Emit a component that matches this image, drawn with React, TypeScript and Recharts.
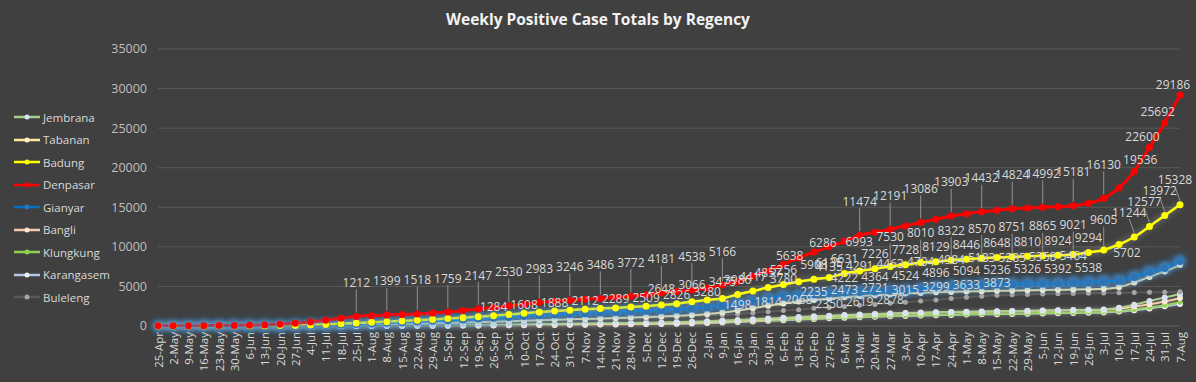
import React from 'react'
import { LineChart, Line, XAxis, YAxis, CartesianGrid, LabelList } from 'recharts'

const weeks = [
  '25-Apr', '2-May', '9-May', '16-May', '23-May', '30-May', '6-Jun', '13-Jun', '20-Jun', '27-Jun',
  '4-Jul', '11-Jul', '18-Jul', '25-Jul', '1-Aug', '8-Aug', '15-Aug', '22-Aug', '29-Aug', '5-Sep',
  '12-Sep', '19-Sep', '26-Sep', '3-Oct', '10-Oct', '17-Oct', '24-Oct', '31-Oct', '7-Nov', '14-Nov',
  '21-Nov', '28-Nov', '5-Dec', '12-Dec', '19-Dec', '26-Dec', '2-Jan', '9-Jan', '16-Jan', '23-Jan',
  '30-Jan', '6-Feb', '13-Feb', '20-Feb', '27-Feb', '6-Mar', '13-Mar', '20-Mar', '27-Mar', '3-Apr',
  '10-Apr', '17-Apr', '24-Apr', '1-May', '8-May', '15-May', '22-May', '29-May', '5-Jun', '12-Jun',
  '19-Jun', '26-Jun', '3-Jul', '10-Jul', '17-Jul', '24-Jul', '31-Jul', '7-Aug',
]

const denpasar = [
  22, 31, 38, 47, 58, 70, 96, 135, 210, 340,
  520, 740, 980, 1212, 1310, 1399, 1460, 1518, 1630, 1759,
  1950, 2147, 2340, 2530, 2760, 2983, 3120, 3246, 3370, 3486,
  3620, 3772, 3960, 4181, 4360, 4538, 4810, 5166, 5638, 6286,
  6993, 7800, 8600, 9350, 10000, 10700, 11474, 11850, 12191, 12650,
  13086, 13500, 13903, 14180, 14432, 14640, 14824, 14910, 14992, 15080,
  15181, 15500, 16130, 17450, 19536, 22600, 25692, 29186,
]

const badung = [
  8, 10, 12, 14, 16, 19, 24, 32, 48, 75,
  120, 190, 280, 370, 460, 550, 640, 730, 830, 940,
  1050, 1165, 1284, 1440, 1608, 1750, 1888, 2000, 2112, 2200,
  2289, 2400, 2509, 2648, 2826, 3066, 3280, 3475, 3986, 4417,
  4857, 5256, 5600, 5908, 6135, 6631, 6950, 7226, 7530, 7728,
  8010, 8129, 8322, 8446, 8570, 8648, 8751, 8810, 8865, 8924,
  9021, 9294, 9605, 10300, 11244, 12577, 13972, 15328,
]

const gianyar = [
  10, 12, 15, 18, 20, 22, 25, 30, 40, 60,
  90, 140, 190, 250, 320, 400, 480, 560, 650, 740,
  830, 940, 1050, 1150, 1250, 1350, 1440, 1530, 1610, 1690,
  1770, 1840, 1920, 2000, 2100, 2220, 2380, 2560, 2800, 3150,
  3450, 3780, 3900, 4020, 4135, 4222, 4291, 4364, 4463, 4524,
  4704, 4896, 4984, 5094, 5183, 5236, 5285, 5326, 5358, 5392,
  5464, 5538, 5620, 5702, 6190, 6820, 7320, 8200,
]

const tabanan = [
  5, 6, 7, 8, 10, 12, 15, 20, 28, 40,
  60, 85, 110, 140, 175, 210, 250, 290, 330, 380,
  430, 480, 540, 600, 660, 720, 780, 840, 900, 960,
  1020, 1080, 1140, 1210, 1290, 1380, 1520, 1700, 1950, 2250,
  2550, 2850, 3100, 3300, 3480, 3640, 3780, 3900, 4010, 4100,
  4180, 4250, 4310, 4360, 4400, 4440, 4480, 4510, 4540, 4570,
  4600, 4640, 4700, 4900, 5500, 6200, 6900, 7700,
]

const buleleng = [
  3, 4, 5, 6, 8, 10, 12, 15, 20, 28,
  40, 55, 75, 100, 130, 160, 195, 230, 270, 310,
  350, 390, 430, 470, 520, 570, 620, 670, 720, 780,
  840, 900, 960, 1040, 1130, 1220, 1320, 1400, 1498, 1650,
  1814, 1950, 2068, 2235, 2350, 2473, 2619, 2721, 2878, 3015,
  3160, 3299, 3470, 3633, 3760, 3873, 3940, 3990, 4030, 4070,
  4100, 4130, 4160, 4190, 4220, 4250, 4280, 4320,
]

const jembrana = [
  0, 0, 0, 1, 1, 2, 2, 3, 4, 5,
  7, 10, 14, 20, 28, 38, 50, 65, 80, 100,
  120, 140, 165, 190, 215, 240, 265, 290, 315, 340,
  365, 390, 420, 450, 490, 540, 600, 680, 770, 860,
  950, 1040, 1130, 1220, 1300, 1380, 1450, 1520, 1580, 1640,
  1690, 1730, 1770, 1800, 1830, 1860, 1890, 1920, 1950, 1980,
  2010, 2050, 2100, 2300, 2700, 3150, 3600, 4050,
]

const bangli = [
  0, 0, 0, 0, 1, 1, 2, 2, 3, 4,
  5, 7, 10, 14, 18, 24, 30, 38, 46, 55,
  65, 78, 92, 108, 125, 145, 165, 185, 205, 225,
  245, 265, 290, 320, 360, 410, 480, 560, 650, 750,
  850, 950, 1050, 1150, 1240, 1320, 1400, 1470, 1540, 1600,
  1650, 1700, 1740, 1780, 1810, 1840, 1870, 1900, 1930, 1960,
  1990, 2020, 2060, 2200, 2450, 2750, 3100, 3550,
]

const klungkung = [
  0, 0, 1, 1, 2, 2, 3, 3, 4, 5,
  6, 8, 11, 15, 20, 26, 33, 41, 50, 60,
  72, 85, 100, 116, 133, 150, 168, 186, 205, 224,
  243, 262, 282, 305, 335, 375, 425, 490, 560, 640,
  720, 800, 880, 950, 1020, 1090, 1150, 1210, 1270, 1320,
  1370, 1410, 1450, 1490, 1520, 1550, 1580, 1610, 1640, 1670,
  1700, 1730, 1770, 1880, 2080, 2330, 2620, 3000,
]

const karangasem = [
  0, 0, 0, 0, 1, 1, 1, 2, 2, 3,
  4, 5, 7, 10, 13, 17, 22, 28, 35, 43,
  52, 62, 73, 85, 98, 112, 127, 143, 160, 178,
  197, 217, 238, 262, 290, 325, 370, 430, 500, 580,
  660, 740, 820, 900, 970, 1040, 1100, 1160, 1220, 1270,
  1320, 1360, 1400, 1440, 1470, 1500, 1530, 1560, 1590, 1620,
  1650, 1680, 1720, 1820, 2000, 2220, 2480, 2780,
]

const yTicks = [0, 5000, 10000, 15000, 20000, 25000, 30000, 35000]

// which points carry a data label
const denpasarLabelAt = [13, 15, 17, 19, 21, 23, 25, 27, 29, 31, 33, 35, 37, 38, 39, 40, 46, 48, 50, 52, 54, 56, 58, 60, 62, 64, 65, 66, 67]
const badungLabelAt = [22, 24, 26, 28, 30, 32, 33, 34, 35, 36, 37, 38, 39, 40, 41, 43, 44, 45, 47, 48, 49, 50, 51, 52, 53, 54, 55, 56, 57, 58, 59, 60, 61, 62, 64, 65, 66, 67]
const gianyarLabelAt = [41, 44, 45, 46, 47, 48, 49, 50, 51, 52, 53, 54, 55, 56, 57, 58, 59, 60, 61, 63]
const bulelengLabelAt = [38, 40, 42, 43, 44, 45, 46, 47, 48, 49, 51, 53, 55]

const rows = weeks.map((week, i) => ({
  week,
  Jembrana: jembrana[i],
  Tabanan: tabanan[i],
  Badung: badung[i],
  Denpasar: denpasar[i],
  Gianyar: gianyar[i],
  Bangli: bangli[i],
  Klungkung: klungkung[i],
  Karangasem: karangasem[i],
  Buleleng: buleleng[i],
}))

const legendItems = [
  { name: 'Jembrana', line: '#a9d18e', dot: '#dae3f3' },
  { name: 'Tabanan', line: '#ffe699', dot: '#fff2cc' },
  { name: 'Badung', line: '#ffff00', dot: '#ffff00' },
  { name: 'Denpasar', line: '#ff0000', dot: '#ff0000' },
  { name: 'Gianyar', line: '#0070c0', dot: '#2e75b6' },
  { name: 'Bangli', line: '#f8cbad', dot: '#fbe5d6' },
  { name: 'Klungkung', line: '#92d050', dot: '#92d050' },
  { name: 'Karangasem', line: '#b4c7e7', dot: '#f2f2f2' },
  { name: 'Buleleng', line: '#595959', dot: '#a6a6a6' },
]

const FONT = "'Open Sans', 'DejaVu Sans', sans-serif"
const textColor = '#d9d9d9'

type Place = { dx: number; dy: number; leader: boolean }

function makeLabel(series: number[], shown: number[], place: (i: number) => Place) {
  return (props: any) => {
    const value = Number(props.value)
    const i = typeof props.index === 'number' ? props.index : series.indexOf(value)
    if (!shown.includes(i)) return null
    const x = props.x ?? props.viewBox?.x
    const y = props.y ?? props.viewBox?.y
    if (x == null || y == null) return null
    const p = place(i)
    const tx = x + p.dx
    const ty = y + p.dy
    return (
      <g key={`lbl-${i}`}>
        {p.leader && (
          <line x1={tx} y1={ty + 7} x2={x} y2={y - 4} stroke="#a6a6a6" strokeWidth={0.8} />
        )}
        <text
          x={tx}
          y={ty}
          textAnchor="middle"
          dominantBaseline="central"
          fill={textColor}
          fontSize={12}
        >
          {value}
        </text>
      </g>
    )
  }
}

const placeDenpasar = (i: number): Place => {
  if (i === 38) return { dx: 52, dy: -26, leader: false }
  if (i === 39) return { dx: 70, dy: -34, leader: false }
  if (i === 40) return { dx: 91, dy: -29, leader: false }
  if (i === 64) return { dx: 6, dy: -12, leader: false }
  if (i > 64) return { dx: -7, dy: -11, leader: false }
  return { dx: 0, dy: -34, leader: true }
}

const placeBadung = (i: number): Place => {
  if (i >= 63) return { dx: -5, dy: -25, leader: true }
  if (i >= 48) return i % 2 === 0 ? { dx: 0, dy: -30, leader: true } : { dx: 0, dy: -15, leader: false }
  if (i >= 38) return { dx: 0, dy: -15, leader: false }
  return i % 2 === 1 ? { dx: 0, dy: -17, leader: false } : { dx: 0, dy: -9, leader: false }
}

const placeGianyar = (i: number): Place => {
  if (i === 63) return { dx: 8, dy: -28, leader: false }
  if (i === 41) return { dx: 0, dy: -18, leader: false }
  return i % 2 === 0 ? { dx: 0, dy: -27, leader: false } : { dx: 0, dy: -15, leader: false }
}

const placeBuleleng = (i: number): Place => {
  if (i < 43) return { dx: 0, dy: -10, leader: false }
  if (i <= 48) return i % 2 === 1 ? { dx: 0, dy: -17, leader: false } : { dx: 0, dy: -4, leader: false }
  return { dx: 0, dy: -13, leader: false }
}

function makeDot(r: number, fill: string, filter?: string) {
  return (p: any) => (
    <circle key={`d-${p.index}`} cx={p.cx} cy={p.cy} r={r} fill={fill} stroke="none" filter={filter} />
  )
}

const DateTick = (props: any) => {
  const { x, y, payload } = props
  return (
    <text
      transform={`translate(${x},${y}) rotate(-90)`}
      textAnchor="end"
      dominantBaseline="central"
      fill={textColor}
      fontSize={11.5}
    >
      {payload.value}
    </text>
  )
}

const ChartLegend = () => (
  <div style={{ position: 'absolute', left: 14, top: 106 }}>
    {legendItems.map((it) => (
      <div key={it.name} style={{ height: 22.5, display: 'flex', alignItems: 'center' }}>
        <svg width={28} height={10} style={{ display: 'block' }}>
          <line x1={0} x2={26} y1={5} y2={5} stroke={it.line} strokeWidth={2.5} />
          <circle cx={13} cy={5} r={2.5} fill={it.dot} />
        </svg>
        <span style={{ fontSize: 11.5, color: textColor, marginLeft: 1 }}>{it.name}</span>
      </div>
    ))}
  </div>
)

export default function App() {
  return (
    <div
      style={{
        position: 'absolute',
        left: 0,
        top: 0,
        width: 1196,
        height: 382,
        background: '#404040',
        fontFamily: FONT,
        overflow: 'hidden',
      }}
    >
      <div
        style={{
          position: 'absolute',
          top: 8,
          left: 0,
          width: 1196,
          textAlign: 'center',
          color: '#f2f2f2',
          fontWeight: 700,
          fontSize: 15.5,
        }}
      >
        Weekly Positive Case Totals by Regency
      </div>
      <ChartLegend />
      <LineChart width={1196} height={382} data={rows} margin={{ top: 49, right: 16, bottom: 6, left: 98 }}>
        <defs>
          <filter id="glowBlueLine" filterUnits="userSpaceOnUse" x="0" y="0" width="1196" height="382">
            <feGaussianBlur in="SourceAlpha" stdDeviation="4" result="b" />
            <feFlood floodColor="#3d8fe0" floodOpacity="0.95" />
            <feComposite in2="b" operator="in" result="g" />
            <feMerge>
              <feMergeNode in="g" />
              <feMergeNode in="g" />
              <feMergeNode in="SourceGraphic" />
            </feMerge>
          </filter>
          <filter id="glowBlueDot" x="-300%" y="-300%" width="700%" height="700%">
            <feGaussianBlur in="SourceAlpha" stdDeviation="3.5" result="b" />
            <feFlood floodColor="#4a9be8" floodOpacity="0.9" />
            <feComposite in2="b" operator="in" result="g" />
            <feMerge>
              <feMergeNode in="g" />
              <feMergeNode in="g" />
              <feMergeNode in="SourceGraphic" />
            </feMerge>
          </filter>
          <filter id="glowSoft" filterUnits="userSpaceOnUse" x="0" y="0" width="1196" height="382">
            <feGaussianBlur in="SourceAlpha" stdDeviation="2.5" result="b" />
            <feFlood floodColor="#ffffff" floodOpacity="0.35" />
            <feComposite in2="b" operator="in" result="g" />
            <feMerge>
              <feMergeNode in="g" />
              <feMergeNode in="SourceGraphic" />
            </feMerge>
          </filter>
          <filter id="glowYellow" filterUnits="userSpaceOnUse" x="0" y="0" width="1196" height="382">
            <feGaussianBlur in="SourceAlpha" stdDeviation="3" result="b" />
            <feFlood floodColor="#ffffcc" floodOpacity="0.45" />
            <feComposite in2="b" operator="in" result="g" />
            <feMerge>
              <feMergeNode in="g" />
              <feMergeNode in="SourceGraphic" />
            </feMerge>
          </filter>
        </defs>
        <CartesianGrid vertical={false} stroke="#595959" strokeWidth={1} />
        <XAxis
          dataKey="week"
          interval={0}
          height={50}
          tick={<DateTick />}
          tickLine={false}
          tickSize={2}
          tickMargin={4}
          axisLine={{ stroke: '#595959' }}
        />
        <YAxis
          domain={[0, 35000]}
          ticks={yTicks}
          width={60}
          axisLine={false}
          tickLine={false}
          tickMargin={5}
          tick={{ fill: '#bfbfbf', fontSize: 12.5 }}
        />
        <Line
          type="monotone"
          dataKey="Karangasem"
          stroke="#b4c7e7"
          strokeWidth={2}
          filter="url(#glowSoft)"
          dot={makeDot(3, '#f2f2f2')}
          activeDot={false}
          isAnimationActive={false}
        />
        <Line
          type="monotone"
          dataKey="Klungkung"
          stroke="#92d050"
          strokeWidth={2}
          dot={makeDot(2.5, '#92d050')}
          activeDot={false}
          isAnimationActive={false}
        />
        <Line
          type="monotone"
          dataKey="Bangli"
          stroke="#f8cbad"
          strokeWidth={2}
          filter="url(#glowSoft)"
          dot={makeDot(3, '#fbe5d6')}
          activeDot={false}
          isAnimationActive={false}
        />
        <Line
          type="monotone"
          dataKey="Jembrana"
          stroke="#a9d18e"
          strokeWidth={2}
          dot={makeDot(3, '#dae3f3')}
          activeDot={false}
          isAnimationActive={false}
        />
        <Line
          type="monotone"
          dataKey="Buleleng"
          stroke="#595959"
          strokeWidth={2}
          dot={makeDot(2.5, '#a6a6a6')}
          activeDot={false}
          isAnimationActive={false}
        >
          <LabelList dataKey="Buleleng" content={makeLabel(buleleng, bulelengLabelAt, placeBuleleng)} />
        </Line>
        <Line
          type="monotone"
          dataKey="Tabanan"
          stroke="#ffe699"
          strokeWidth={2}
          filter="url(#glowSoft)"
          dot={makeDot(3, '#fff2cc')}
          activeDot={false}
          isAnimationActive={false}
        />
        <Line
          type="monotone"
          dataKey="Gianyar"
          stroke="#0070c0"
          strokeWidth={2.5}
          filter="url(#glowBlueLine)"
          dot={makeDot(4, '#2e75b6', 'url(#glowBlueDot)')}
          activeDot={false}
          isAnimationActive={false}
        >
          <LabelList dataKey="Gianyar" content={makeLabel(gianyar, gianyarLabelAt, placeGianyar)} />
        </Line>
        <Line
          type="monotone"
          dataKey="Badung"
          stroke="#ffff00"
          strokeWidth={2.5}
          filter="url(#glowYellow)"
          dot={makeDot(3.5, '#ffff00')}
          activeDot={false}
          isAnimationActive={false}
        >
          <LabelList dataKey="Badung" content={makeLabel(badung, badungLabelAt, placeBadung)} />
        </Line>
        <Line
          type="monotone"
          dataKey="Denpasar"
          stroke="#ff0000"
          strokeWidth={3}
          dot={makeDot(3.5, '#ff0000')}
          activeDot={false}
          isAnimationActive={false}
        >
          <LabelList dataKey="Denpasar" content={makeLabel(denpasar, denpasarLabelAt, placeDenpasar)} />
        </Line>
      </LineChart>
    </div>
  )
}
